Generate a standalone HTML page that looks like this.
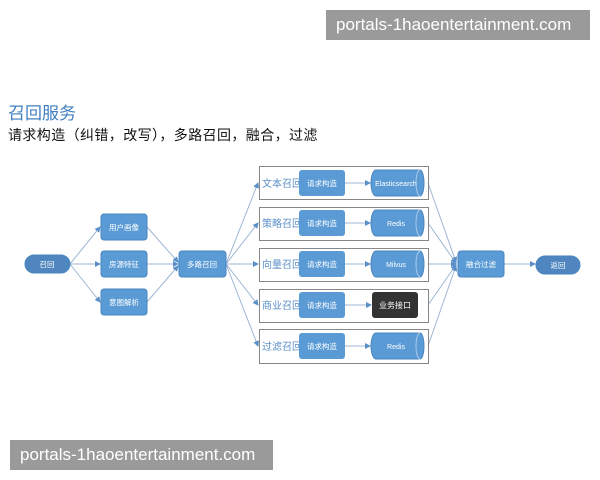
<!DOCTYPE html>
<html><head><meta charset="utf-8"><style>
body{margin:0;width:600px;height:480px;background:#fff;position:relative;overflow:hidden;font-family:"Liberation Sans","Noto Sans CJK SC",sans-serif}
.wm{position:absolute;background:#9a9a9a;color:#fff;font-size:17px;line-height:30px;padding:0 10px;box-sizing:border-box}
</style></head><body>
<div class="wm" style="left:326px;top:10px;width:264px;height:30px">portals-1haoentertainment.com</div>
<div class="wm" style="left:10px;top:440px;width:263px;height:30px">portals-1haoentertainment.com</div>
<div style="position:absolute;left:8px;top:99px;font-size:17px;color:#3f7fc1">召回服务</div>
<div style="position:absolute;left:8px;top:125px;font-size:14px;color:#111;letter-spacing:0.4px">请求构造（纠错，改写），多路召回，融合，过滤</div>
<svg width="600" height="480" style="position:absolute;left:0;top:0" font-family="Liberation Sans,Noto Sans CJK SC,sans-serif">
<defs><marker id="a" markerWidth="6" markerHeight="6" refX="5" refY="3" orient="auto"><path d="M0,0L6,3L0,6z" fill="#5b8fc7"/></marker></defs>
<g stroke="#9fb6d4" stroke-width="1" fill="none" marker-end="url(#a)">
<line x1="70" y1="264" x2="100" y2="227"/><line x1="70" y1="264" x2="100" y2="264"/><line x1="70" y1="264" x2="100" y2="302"/>
<line x1="147" y1="227" x2="178" y2="262"/><line x1="147" y1="264" x2="178" y2="264"/><line x1="147" y1="302" x2="178" y2="266"/>
<line x1="226" y1="264" x2="258" y2="183"/><line x1="226" y1="264" x2="258" y2="223"/><line x1="226" y1="264" x2="258" y2="264"/><line x1="226" y1="264" x2="258" y2="305"/><line x1="226" y1="264" x2="258" y2="346"/>
<line x1="345" y1="183" x2="370" y2="183"/><line x1="345" y1="223" x2="370" y2="223"/><line x1="345" y1="264" x2="370" y2="264"/><line x1="345" y1="305" x2="371" y2="305"/><line x1="345" y1="346" x2="370" y2="346"/>
<line x1="428" y1="183" x2="456" y2="262"/><line x1="428" y1="223" x2="456" y2="263"/><line x1="428" y1="264" x2="456" y2="264"/><line x1="428" y1="305" x2="456" y2="265"/><line x1="428" y1="346" x2="456" y2="266"/>
<line x1="504" y1="264" x2="535" y2="264"/>
</g>
<g fill="#5b9bd5" stroke="#4a86c0">
<rect x="25" y="255" width="45" height="18" rx="9" fill="#4f86bf"/>
<rect x="536" y="256" width="44" height="18" rx="9" fill="#4f86bf"/>
<rect x="101" y="214" width="46" height="26" rx="3"/><rect x="101" y="251" width="46" height="26" rx="3"/><rect x="101" y="289" width="46" height="26" rx="3"/>
<rect x="179" y="251" width="47" height="26" rx="3"/><rect x="458" y="251" width="46" height="26" rx="3"/>
</g>
<g fill="none" stroke="#888"><rect x="259.5" y="166.5" width="169" height="33"/><rect x="259.5" y="207.5" width="169" height="33"/><rect x="259.5" y="248.5" width="169" height="33"/><rect x="259.5" y="289.5" width="169" height="33"/><rect x="259.5" y="329.5" width="169" height="34"/></g>
<g font-size="10" fill="#5b8fc7"><text x="262" y="187">文本召回</text><text x="262" y="227">策略召回</text><text x="262" y="268">向量召回</text><text x="262" y="309">商业召回</text><text x="262" y="350">过滤召回</text></g>
<g fill="#5b9bd5"><rect x="299" y="170" width="46" height="26" rx="3"/><rect x="299" y="210" width="46" height="26" rx="3"/><rect x="299" y="251" width="46" height="26" rx="3"/><rect x="299" y="292" width="46" height="26" rx="3"/><rect x="299" y="333" width="46" height="26" rx="3"/></g>
<g fill="#5b9bd5" stroke="#4a86c0">
<path d="M376,170H420A4,13 0 0 1 420,196H376A5,13 0 0 1 376,170z"/><path d="M376,210H420A4,13 0 0 1 420,236H376A5,13 0 0 1 376,210z"/><path d="M376,251H420A4,13 0 0 1 420,277H376A5,13 0 0 1 376,251z"/><path d="M376,333H420A4,13 0 0 1 420,359H376A5,13 0 0 1 376,333z"/>
</g>
<g fill="none" stroke="#a9c8e8"><path d="M420,170A4,13 0 0 0 420,196"/><path d="M420,210A4,13 0 0 0 420,236"/><path d="M420,251A4,13 0 0 0 420,277"/><path d="M420,333A4,13 0 0 0 420,359"/></g>
<rect x="372" y="292" width="46" height="26" rx="3" fill="#333"/>
<g font-size="7.5" fill="#fff" text-anchor="middle">
<text x="47" y="267">召回</text><text x="558" y="268">返回</text>
<text x="124" y="230">用户画像</text><text x="124" y="267">房源特征</text><text x="124" y="305">意图解析</text>
<text x="202" y="267">多路召回</text><text x="481" y="267">融合过滤</text>
<text x="322" y="186">请求构造</text><text x="322" y="226">请求构造</text><text x="322" y="267">请求构造</text><text x="322" y="308">请求构造</text><text x="322" y="349">请求构造</text>
<text x="396" y="186" font-size="7">Elasticsearch</text><text x="396" y="226" font-size="7">Redis</text><text x="396" y="267" font-size="7">Milvus</text><text x="396" y="349" font-size="7">Redis</text>
<text x="395" y="308" font-size="8">业务接口</text>
</g>
</svg>
</body></html>
